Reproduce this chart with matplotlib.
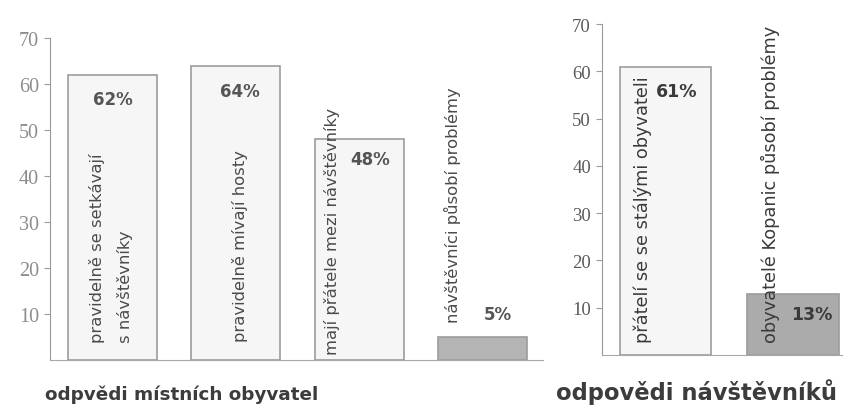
import numpy as np
import matplotlib.pyplot as plt

# left chart: answers of local residents
local_labels = [["pravidelně se setkávají", "s návštěvníky"],
                ["pravidelně mívají hosty"],
                ["mají přátele mezi návštěvníky"],
                ["návštěvníci působí problémy"]]
local_values = [62, 64, 48, 5]
local_pct = ["62%", "64%", "48%", "5%"]
local_fill = ["#f6f6f6", "#f6f6f6", "#f6f6f6", "#b4b4b4"]

# right chart: answers of visitors
visit_labels = [["přátelí se se stálými obyvateli"],
                ["obyvatelé Kopanic působí problémy"]]
visit_values = [61, 13]
visit_pct = ["61%", "13%"]
visit_fill = ["#f6f6f6", "#ababab"]

yticks = [10, 20, 30, 40, 50, 60, 70]

fig = plt.figure(figsize=(8.43, 4.06), dpi=100)
fig.patch.set_facecolor("white")

def setup(ax, tick_color, tick_size):
    ax.set_facecolor("none")
    ax.set_ylim(0, 70)
    ax.set_yticks(yticks)
    ax.set_xticks([])
    for s in ["top", "right"]:
        ax.spines[s].set_visible(False)
    ax.spines["left"].set_color("#9a9a9a")
    ax.spines["bottom"].set_color("#a8a8a8")
    ax.tick_params(axis="y", length=4, color="#9a9a9a", labelcolor=tick_color,
                   labelsize=tick_size, pad=4)
    for t in ax.get_yticklabels():
        t.set_family("Liberation Serif")

# ---- left
ax1 = fig.add_axes([50/843, 45/406, 493/843, 322/406])
setup(ax1, "#8c8c8c", 14.5)
ax1.set_xlim(-0.507, 3.49)
x1 = np.arange(len(local_values))
ax1.bar(x1, local_values, width=0.72, color=local_fill, edgecolor="#9c9c9c", linewidth=1.2)

# rotated label positions (x offset from bar centre, bottom y)
l_txt_dx = [[-0.126, 0.10], [0.03], [-0.22], [-0.24]]
l_txt_y = [3.9, 4.1, 1.3, 8.3]
for i, lines in enumerate(local_labels):
    for j, s in enumerate(lines):
        ax1.text(x1[i] + l_txt_dx[i][j], l_txt_y[i], s, rotation=90, ha="center",
                 va="bottom", fontsize=11.8, color="#4a4a4a")
l_pct_dx = [0.0, 0.03, 0.09, 0.12]
l_pct_y = [56.7, 58.5, 43.7, 10.0]
for i, p in enumerate(local_pct):
    ax1.text(x1[i] + l_pct_dx[i], l_pct_y[i], p, ha="center", va="center",
             fontsize=12, fontweight="bold", color="#555555")

# ---- right
ax2 = fig.add_axes([602/843, 50/406, 241/843, 331/406])
setup(ax2, "#5a5a5a", 13.5)
ax2.set_xlim(-0.498, 1.392)
x2 = np.arange(len(visit_values))
ax2.bar(x2, visit_values, width=0.72, color=visit_fill, edgecolor="#9c9c9c", linewidth=1.2)

v_txt_dx = [-0.18, -0.18]
v_txt_y = [2.7, 2.7]
for i, lines in enumerate(visit_labels):
    for s in lines:
        ax2.text(x2[i] + v_txt_dx[i], v_txt_y[i], s, rotation=90, ha="center",
                 va="bottom", fontsize=12.8, color="#3a3a3a")
v_pct_dx = [0.09, 0.15]
v_pct_y = [55.8, 8.7]
for i, p in enumerate(visit_pct):
    ax2.text(x2[i] + v_pct_dx[i], v_pct_y[i], p, ha="center", va="center",
             fontsize=12.5, fontweight="bold", color="#3a3a3a")

# titles under the charts
fig.text(182/843, 1 - 395/406, "odpvědi místních obyvatel", ha="center", va="center",
         fontsize=13.2, fontweight="bold", color="#3c3c3c")
fig.text(697/843, 1 - 392/406, "odpovědi návštěvníků", ha="center", va="center",
         fontsize=16.3, fontweight="bold", color="#3c3c3c")

fig.savefig("out.png", dpi=100)
